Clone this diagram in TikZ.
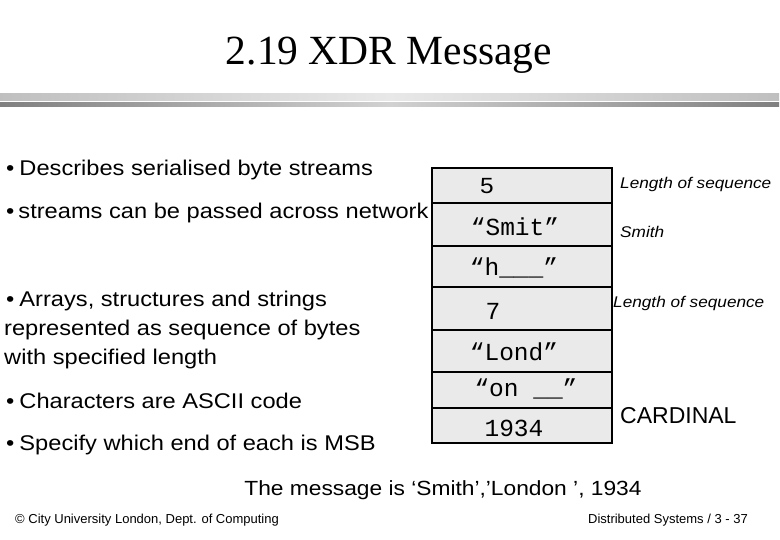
\documentclass[tikz,border=0pt]{standalone}
\usepackage{fontspec}
\setmainfont{Liberation Sans}
\newfontfamily\bodyf[FakeStretch=1.11]{Liberation Sans}
\newfontfamily\titlef{Liberation Serif}
\newfontfamily\monof{Liberation Mono}
\definecolor{cellgray}{HTML}{EAEAEA}
\begin{document}
\begin{tikzpicture}[x=1pt,y=-1pt,
  body/.style={anchor=base west,inner sep=0pt,font=\bodyf\fontsize{21.3}{25}\selectfont},
  mono/.style={anchor=base,inner sep=0pt,font=\monof\fontsize{24.5}{28}\selectfont},
  note/.style={anchor=base west,inner sep=0pt,font=\bodyf\itshape\fontsize{15.5}{18}\selectfont},
  cell/.style={draw=black,line width=1.5pt,fill=cellgray,minimum width=180pt,anchor=north west,inner sep=0pt,outer sep=0pt},
  foot/.style={anchor=base west,inner sep=0pt,font=\fontsize{13}{15}\selectfont}]
\useasboundingbox[fill=white] (0,0) rectangle (780,540);
% title
\node[anchor=base,inner sep=0pt,font=\titlef\fontsize{41.5}{48}\selectfont] (title) at (389,65) {2.19 XDR Message};
% rules
\shade[left color=black!25,right color=black!25,middle color=black!9] (0,94) rectangle (779,101);
\shade[left color=black!50,right color=black!50,middle color=black!18] (0,103) rectangle (779,107);
% cells
\node[cell,minimum height=35pt] (r1) at (432,168) {};
\node[cell,minimum height=43pt] (r2) at (432,203) {};
\node[cell,minimum height=41pt] (r3) at (432,246) {};
\node[cell,minimum height=43pt] (r4) at (432,287) {};
\node[cell,minimum height=42pt] (r5) at (432,330) {};
\node[cell,minimum height=36pt] (r6) at (432,372) {};
\node[cell,minimum height=35pt] (r7) at (432,408) {};
% left text
\node[body] (b1) at (6,176) {•\hspace{5pt}Describes serialised byte streams};
\node[body] (b2) at (6,219) {•\hspace{4pt}streams can be passed across network};
\node[body] (b3) at (6,307) {•\hspace{5pt}Arrays, structures and strings};
\node[body] (b3b) at (4,336) {represented as sequence of bytes};
\node[body] (b3c) at (4,364) {with specified length};
\node[body] (b4) at (6,409) {•\hspace{5pt}Characters are ASCII code};
\node[body] (b5) at (6,450) {•\hspace{5pt}Specify which end of each is MSB};
% cell contents
\node[anchor=base,inner sep=0pt,font=\bodyf\fontsize{22}{25}\selectfont] (t1) at (487,194) {5};
\node[mono] (t2) at (515,236) {“Smit”};
\node[mono] (t3) at (514,276) {“h\_\_\_”};
\node[mono] (t4) at (493,320) {7};
\node[mono] (t5) at (514,360) {“Lond”};
\node[mono] (t6) at (526,396) {“on \_\_”};
\node[mono] (t7) at (514,436) {1934};
% notes
\node[note] (n1) at (620,189) {Length of sequence};
\node[note] (n2) at (620,238) {Smith};
\node[note] (n3) at (613,308) {Length of sequence};
\node[anchor=base west,inner sep=0pt,font=\fontsize{23}{27}\selectfont] (n4) at (620,423) {CARDINAL};
% message
\node[anchor=base,inner sep=0pt,font=\bodyf\fontsize{20.5}{24}\selectfont] (msg) at (443,495) {The message is ‘Smith’,’London ’, 1934};
% footer
\node[foot] (f1) at (15,523) {© City University London, Dept. of Computing};
\node[foot,anchor=base east] (f2) at (748,523) {Distributed Systems / 3 - 37};
\end{tikzpicture}
\end{document}
